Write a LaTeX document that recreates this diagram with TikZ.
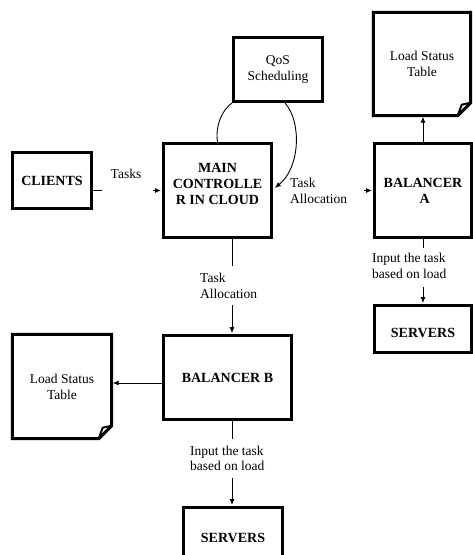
\documentclass[tikz,border=0pt]{standalone}
\usepackage{fontspec}
\setmainfont{Liberation Serif}
\usetikzlibrary{arrows.meta,calc}
\begin{document}
\begin{tikzpicture}[x=1pt,y=-1pt,
  box/.style={draw,line width=3pt,inner sep=0pt,align=center,font=\fontsize{14}{16}\selectfont\bfseries},
  docbox/.style={inner sep=0pt,align=center,font=\fontsize{13.5}{16}\selectfont},
  lbl/.style={inner sep=0pt,align=left,font=\fontsize{13.5}{15.5}\selectfont},
  btxt/.style={inner sep=0pt,align=center,font=\fontsize{14}{16}\selectfont\bfseries},
  conn/.style={line width=0.9pt},
  arr/.style={conn,-{Latex[length=6pt,width=5pt]},shorten >=1pt},
  docline/.style={line width=3pt,line join=miter}]
\useasboundingbox (0,0) rectangle (473,555);
\clip (0,0) rectangle (473,555);

% boxes
\node[box,minimum width=79,minimum height=56] (clients) at (52,180.5) {CLIENTS};
\node[box,minimum width=108,minimum height=94] (main) at (217.5,190.5) {};
\node[btxt] (maintxt) at (217.5,184) {MAIN\\CONTROLLE\\R IN CLOUD};
\node[box,minimum width=89,minimum height=64,font=\fontsize{13.5}{16}\selectfont] (qos) at (278,69.5) {QoS\\Scheduling};
\node[box,minimum width=97,minimum height=94] (bala) at (423,190.5) {BALANCER\\\ A};
\node[box,minimum width=97,minimum height=47] (srva) at (423,329) {};
\node[btxt] (srvatxt) at (423,333) {SERVERS};
\node[box,minimum width=128,minimum height=84] (balb) at (227.5,377.5) {BALANCER B};
\node[box,minimum width=99,minimum height=60] (srvb) at (233,537.5) {SERVERS};

% documents
\node[docbox,minimum width=97,minimum height=103] (lsta) at (422,64) {Load Status\\Table};
\node[docbox,minimum width=99,minimum height=104] (lstb) at (62,386.5) {Load Status\\Table};
\foreach \d in {lsta,lstb}{
  \draw[docline] (\d.north west) -- (\d.north east) -- ($(\d.south east)+(0,-13)$)
    -- ($(\d.south east)+(-13,0)$) -- (\d.south west) -- cycle;
  \draw[line width=2pt,line join=miter] ($(\d.south east)+(0,-13)$) -- ($(\d.south east)+(-9,-11)$) -- ($(\d.south east)+(-13,0)$);
}

% labels
\node[lbl] (ltasks) at (126,174) {Tasks};
\node[lbl,anchor=west] (lalloca) at (290,191) {Task\\Allocation};
\node[lbl,anchor=west] (lallocb) at (200,286) {Task\\Allocation};
\node[lbl,anchor=west] (linputa) at (372,266) {Input the task\\based on load};
\node[lbl,anchor=west] (linputb) at (190,458.5) {Input the task\\based on load};

% connectors
\coordinate (bx) at (232,0);
\coordinate (ly) at (0,383);
\draw[conn] (clients.east |- main.west) -- ++(9,0);
\draw[arr] ($(main.west)+(-9,0)$) -- (main.west);
\draw[conn] (qos.south west) .. controls (222,110) and (215,126) .. (main.north);
\draw[arr] ($(qos.south)+(7,0)$) .. controls (302,122) and (300,168) .. ($(main.east)+(1,-2)$);
\draw[arr] ($(bala.west)+(-9,0)$) -- (bala.west);
\draw[arr] (bala.north) -- (lsta.south -| bala.north);
\draw[conn] (bala.south) -- ++(0,9);
\draw[arr] ($(srva.north)+(0,-17)$) -- (srva.north);
\draw[conn] (main.south -| bx) -- ++(0,27);
\draw[arr] ($(balb.north -| bx)+(0,-29)$) -- (balb.north -| bx);
\draw[arr] (balb.west |- ly) -- (lstb.east |- ly);
\draw[conn] (balb.south -| bx) -- ++(0,18);
\draw[arr] ($(srvb.north -| bx)+(0,-28)$) -- (srvb.north -| bx);
\end{tikzpicture}
\end{document}
